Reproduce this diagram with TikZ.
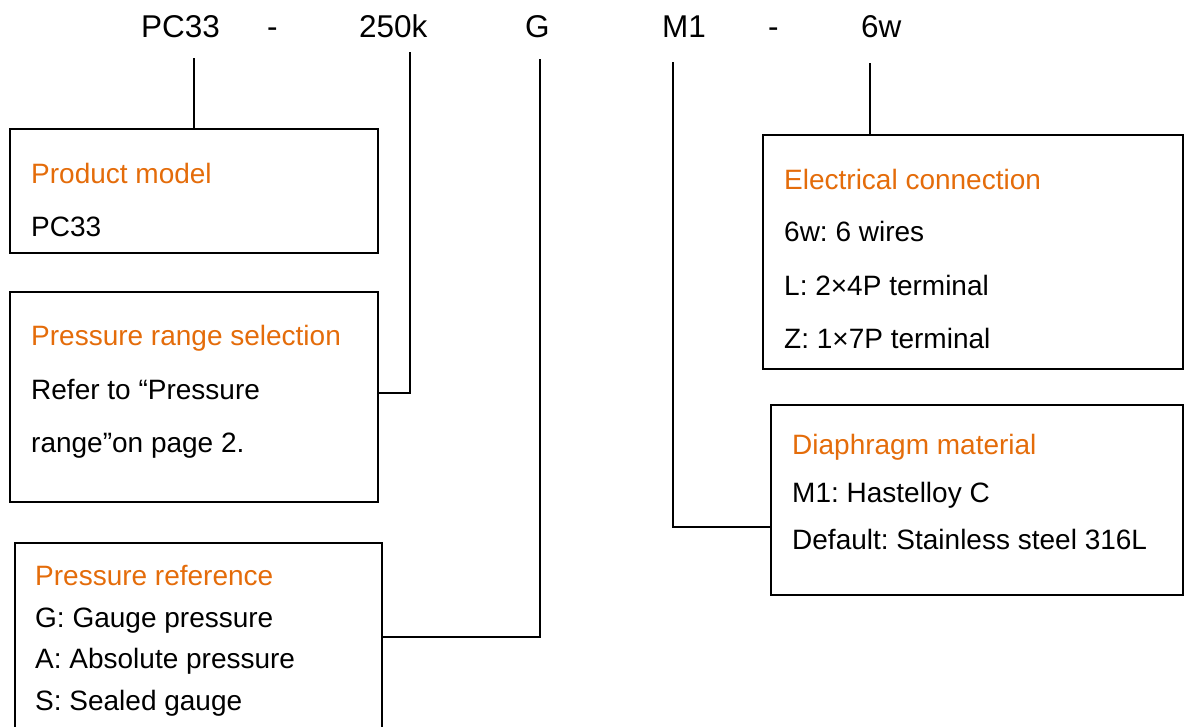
\documentclass[tikz,border=0pt]{standalone}
\usepackage{fontspec}
\setmainfont{Liberation Sans}
\usepackage{xcolor}
\definecolor{headorange}{RGB}{228,108,10}
\frenchspacing

\tikzset{
  box/.style={draw,line width=2pt,inner sep=0pt,outer sep=0pt,anchor=north west},
  head/.style={anchor=base west,inner sep=0pt,text=headorange,font=\fontsize{28}{33}\selectfont},
  item/.style={anchor=base west,inner sep=0pt,font=\fontsize{28}{33}\selectfont},
  code/.style={anchor=base west,inner sep=0pt,font=\fontsize{31.5}{38}\selectfont},
  wire/.style={line width=2pt},
  stub/.style={line width=2.6pt}
}

\begin{document}
\begin{tikzpicture}[x=1pt,y=-1pt]
\useasboundingbox (0,0) rectangle (1184,726);

% order code
\node[code] (cModel) at (141,37) {PC33};
\node[code] (cDashA) at (267,37) {-};
\node[code] (cRange) at (359,37) {250k};
\node[code] (cRef) at (525,37) {G};
\node[code] (cMat) at (662,37) {M1};
\node[code] (cDashB) at (768,37) {-};
\node[code] (cElec) at (861,37) {6w};

% boxes
\node[box,minimum width=368pt,minimum height=124pt] (model) at (10,129) {};
\node[box,minimum width=368pt,minimum height=210pt] (range) at (10,292) {};
\node[box,minimum width=367pt,minimum height=188pt] (ref) at (15,543) {};
\node[box,minimum width=420pt,minimum height=234pt] (elec) at (763,135) {};
\node[box,minimum width=412pt,minimum height=190pt] (mat) at (771,405) {};

% texts
\node[head] (modelHead) at (31,183) {Product model};
\node[item] (modelA) at (31,236) {PC33};

\node[head] (rangeHead) at (31,345) {Pressure range selection};
\node[item] (rangeA) at (31,399) {Refer to “Pressure};
\node[item] (rangeB) at (31,452) {range”on page 2.};

\node[head] (refHead) at (35,585) {Pressure reference};
\node[item] (refA) at (35,627) {G: Gauge pressure};
\node[item] (refB) at (35,668) {A: Absolute pressure};
\node[item] (refC) at (35,710) {S: Sealed gauge};

\node[head] (elecHead) at (784,189) {Electrical connection};
\node[item] (elecA) at (784,241) {6w: 6 wires};
\node[item] (elecB) at (784,295) {L: 2×4P terminal};
\node[item] (elecC) at (784,348) {Z: 1×7P terminal};

\node[head] (matHead) at (792,454) {Diaphragm material};
\node[item] (matA) at (792,502) {M1: Hastelloy C};
\node[item] (matB) at (792,549) {Default: Stainless steel 316L};

% connectors
\coordinate (sModel) at (194,58);
\coordinate (sRange) at (410,52);
\coordinate (sRef) at (540,59);
\coordinate (sMat) at (673,62);
\coordinate (sElec) at (870,63);
\draw[stub] (sModel) -- (sModel |- model.north);
\draw[wire] (sRange) |- ([yshift=4pt]range.east);
\draw[wire] (sRef) |- (ref.east);
\draw[wire] (sMat) |- ([yshift=-27pt]mat.west);
\draw[stub] (sElec) -- (sElec |- elec.north);
\end{tikzpicture}
\end{document}
